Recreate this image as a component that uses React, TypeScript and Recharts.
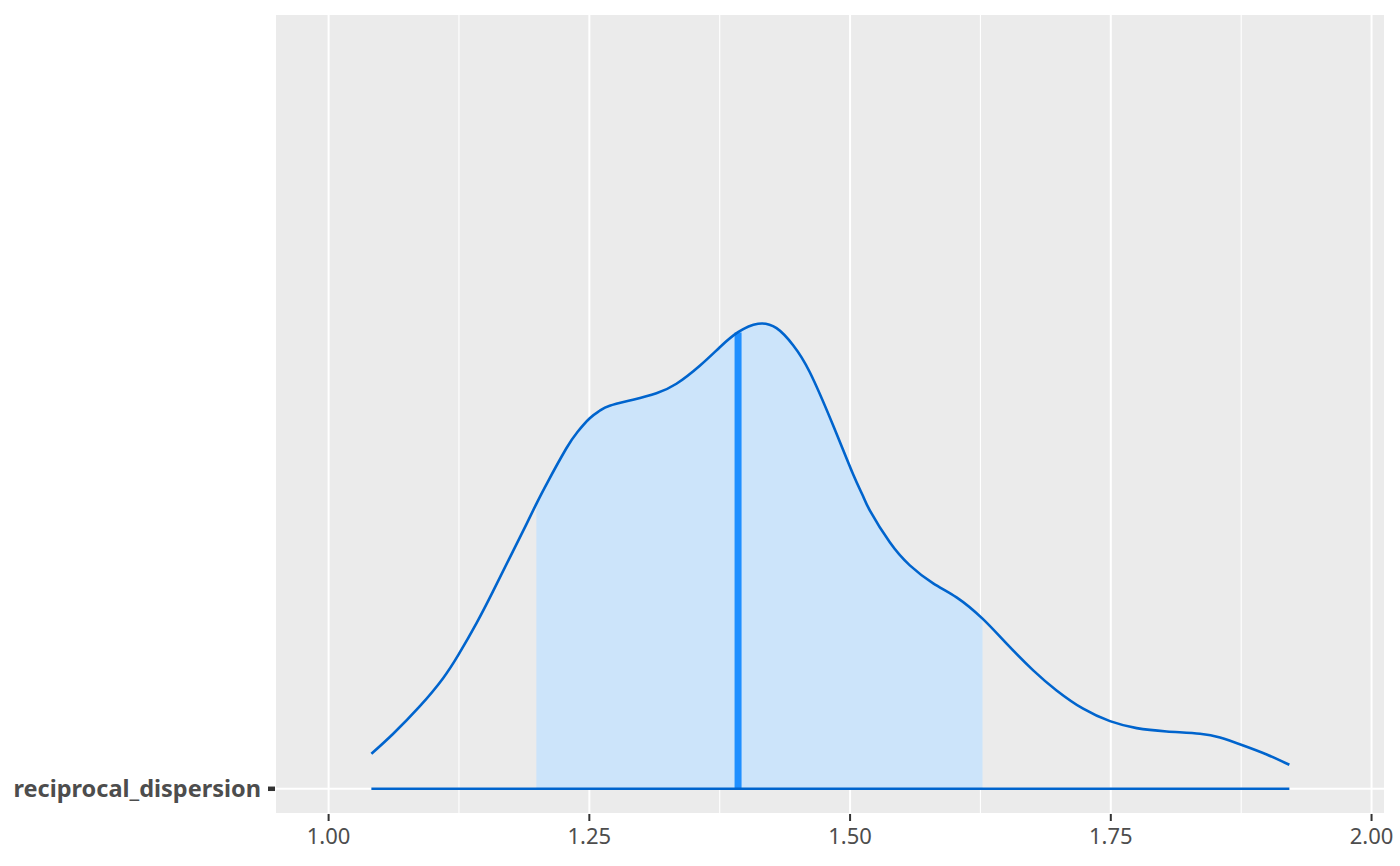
import React from "react";
import {
  ComposedChart,
  Area,
  Line,
  XAxis,
  YAxis,
  CartesianGrid,
  ReferenceLine,
} from "recharts";

// posterior density of reciprocal_dispersion
const DENS_X = [
  1.041, 1.0617, 1.0873, 1.1096, 1.1247, 1.1417, 1.1576, 1.1736, 1.1896,
  1.1992, 1.2104, 1.228, 1.2388, 1.2504, 1.26, 1.2695, 1.2919, 1.3143, 1.3335,
  1.3559, 1.3751, 1.3926, 1.4118, 1.4295, 1.4454, 1.4614, 1.4837, 1.5029,
  1.5125, 1.5189, 1.5381, 1.5573, 1.5797, 1.6021, 1.627, 1.6501, 1.6756, 1.698,
  1.7235, 1.7492, 1.7748, 1.8036, 1.8355, 1.8547, 1.877, 1.8995, 1.9212,
];
const DENS_Y = [
  0.35, 0.548, 0.823, 1.103, 1.343, 1.653, 1.973, 2.308, 2.643, 2.848, 3.073,
  3.403, 3.568, 3.703, 3.778, 3.828, 3.888, 3.953, 4.048, 4.228, 4.413, 4.563,
  4.648, 4.603, 4.433, 4.163, 3.633, 3.143, 2.923, 2.783, 2.463, 2.233, 2.053,
  1.913, 1.7, 1.45, 1.183, 0.983, 0.8, 0.676, 0.606, 0.573, 0.55, 0.513, 0.433,
  0.343, 0.24,
];

const PARAM = "reciprocal_dispersion";
const CI_LOW = 1.1992;
const CI_HIGH = 1.627;
const MEDIAN = 1.3926;
const MEDIAN_DENS = 4.56;

const X_TICKS = [1, 1.25, 1.5, 1.75, 2];
const X_MINOR = [1.125, 1.375, 1.625, 1.875];
const X_MIN = 0.9486;
const X_MAX = 2.0129;
const Y_MIN = -0.252;
const Y_MAX = 7.743;

const LINE = "#0064CD";
const FILL = "#CCE4FA";
const MEDIAN_COLOR = "#1F8FFF";
const PANEL = "#EBEBEB";
const TEXT = "#4D4D4D";
const FONT = "'Noto Sans', 'Open Sans', sans-serif";

const data = DENS_X.map((x, i) => ({
  x,
  dens: DENS_Y[i],
  inner: x >= CI_LOW && x <= CI_HIGH ? DENS_Y[i] : null,
}));

export default function App() {
  return (
    <div style={{ position: "absolute", left: 0, top: 0, fontFamily: FONT }}>
      <ComposedChart
        width={1400}
        height={866}
        data={data}
        margin={{ top: 14, right: 15, bottom: 0, left: 0 }}
      >
        <CartesianGrid
          fill={PANEL}
          fillOpacity={1}
          stroke="#FFFFFF"
          strokeWidth={2}
        />
        <CartesianGrid
          horizontal={false}
          stroke="#FFFFFF"
          strokeWidth={1.1}
          verticalCoordinatesGenerator={({ offset }: any) =>
            X_MINOR.map(
              (v) =>
                offset.left + ((v - X_MIN) / (X_MAX - X_MIN)) * offset.width,
            )
          }
        />
        <XAxis
          dataKey="x"
          type="number"
          domain={[X_MIN, X_MAX]}
          allowDataOverflow
          ticks={X_TICKS}
          tickFormatter={(v: number) => v.toFixed(2)}
          axisLine={false}
          tickLine={{ stroke: "#333333", strokeWidth: 2 }}
          tickSize={7}
          tickMargin={7}
          height={52}
          tick={{ fontSize: 22, fill: TEXT, fontFamily: FONT }}
        />
        <YAxis
          type="number"
          domain={[Y_MIN, Y_MAX]}
          allowDataOverflow
          ticks={[0]}
          tickFormatter={() => PARAM}
          axisLine={false}
          tickLine={{ stroke: "#333333", strokeWidth: 4.5 }}
          tickSize={7}
          tickMargin={7}
          width={275}
          tick={{ fontSize: 23.5, fill: TEXT, fontWeight: 700, fontFamily: FONT }}
        />
        <Area
          dataKey="inner"
          type="natural"
          baseValue={0}
          fill={FILL}
          fillOpacity={1}
          stroke="none"
          connectNulls={false}
          isAnimationActive={false}
        />
        <ReferenceLine
          segment={[
            { x: MEDIAN, y: 0 },
            { x: MEDIAN, y: MEDIAN_DENS },
          ]}
          stroke={MEDIAN_COLOR}
          strokeWidth={7}
        />
        <Line
          dataKey="dens"
          type="natural"
          stroke={LINE}
          strokeWidth={2.6}
          dot={false}
          activeDot={false}
          isAnimationActive={false}
        />
        <ReferenceLine
          segment={[
            { x: DENS_X[0], y: 0 },
            { x: DENS_X[DENS_X.length - 1], y: 0 },
          ]}
          stroke={LINE}
          strokeWidth={2.6}
        />
      </ComposedChart>
    </div>
  );
}
